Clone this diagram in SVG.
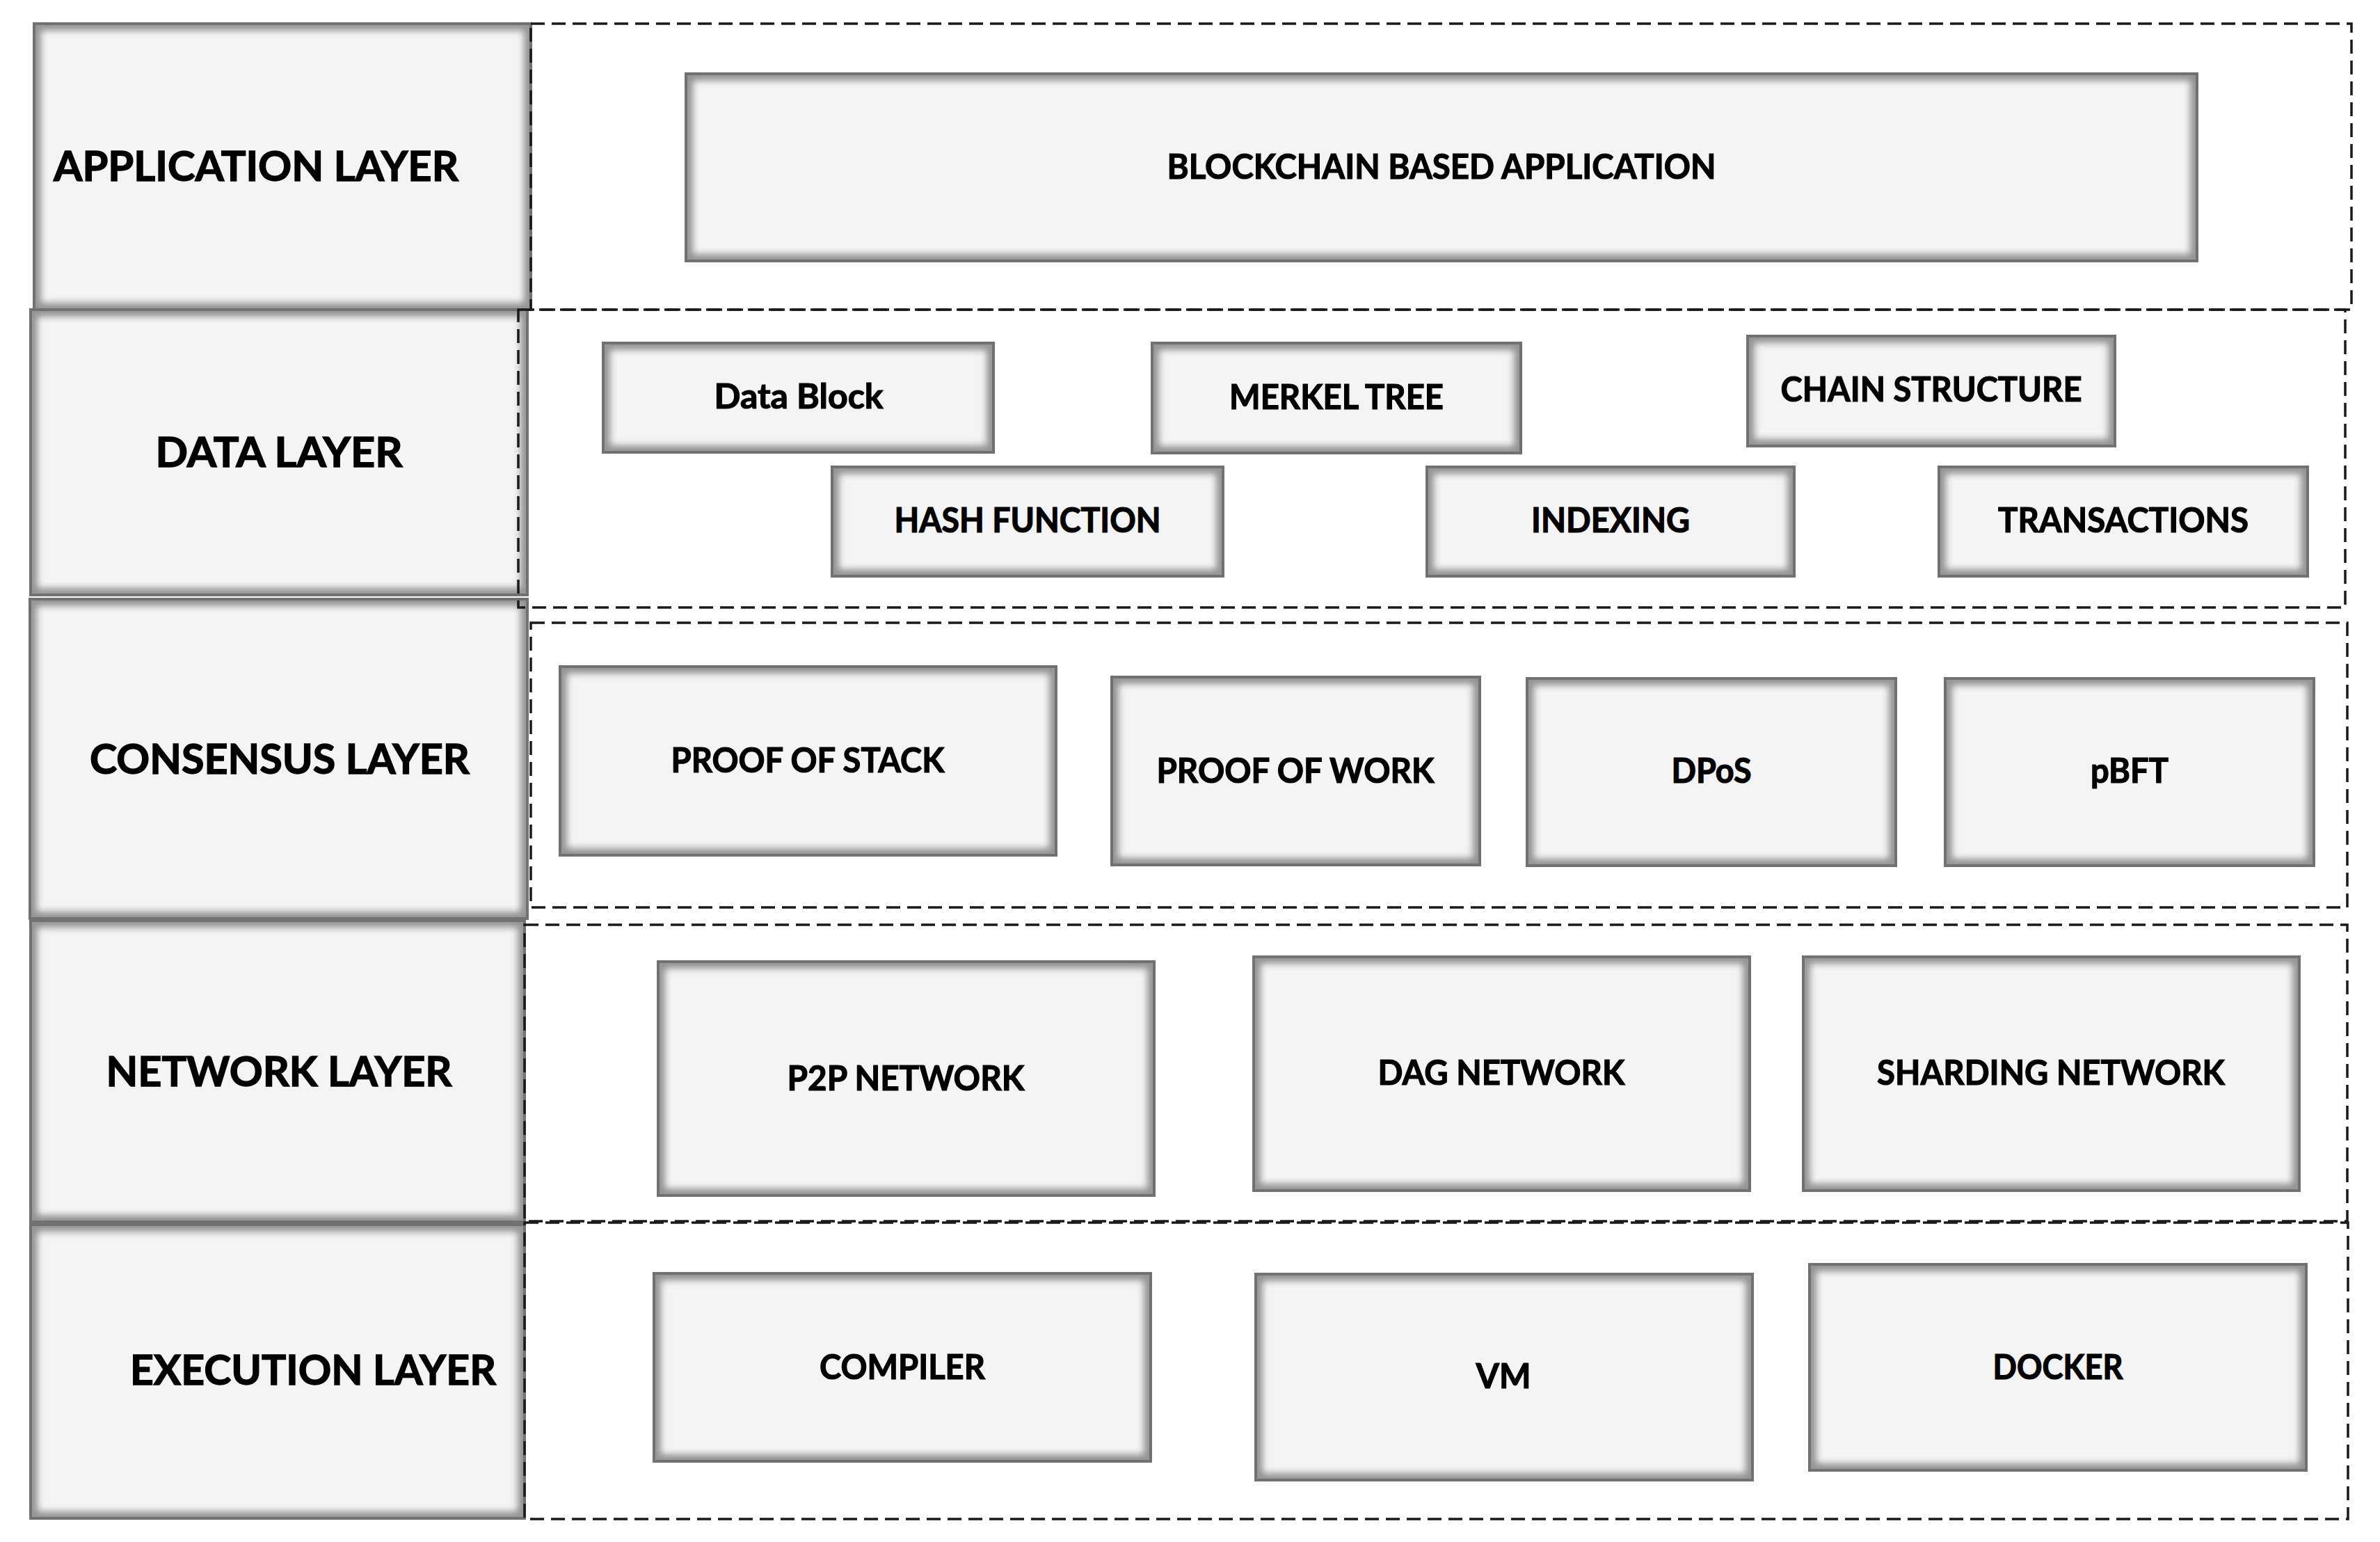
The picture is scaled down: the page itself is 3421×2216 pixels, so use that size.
<svg xmlns="http://www.w3.org/2000/svg" width="3421" height="2216" viewBox="0 0 3421 2216">
<style>
.box{fill:#f4f4f4;stroke:#222;stroke-width:4;filter:url(#inset)}
.dash{fill:none;stroke:#1a1a1a;stroke-width:3.5;stroke-dasharray:20 10}
.lbl{font-family:Lato,"Liberation Sans",sans-serif;font-weight:bold;font-size:60px;fill:#000;stroke:#000;stroke-width:1.4}
.nt{font-family:Lato,"Liberation Sans",sans-serif;font-weight:bold;font-size:49px;fill:#000;stroke:#000;stroke-width:1.2;text-anchor:middle}
</style>
<defs>
<filter id="inset" x="-0.05" y="-0.1" width="1.1" height="1.2">
<feMorphology in="SourceAlpha" operator="erode" radius="13" result="e"/>
<feGaussianBlur in="e" stdDeviation="5" result="eb"/>
<feComposite in="SourceAlpha" in2="eb" operator="out" result="band"/>
<feFlood flood-color="#7a7a7a" flood-opacity="0.85"/>
<feComposite in2="band" operator="in" result="g"/>
<feMerge><feMergeNode in="SourceGraphic"/><feMergeNode in="g"/></feMerge>
</filter>
</defs>
<rect width="3421" height="2216" fill="#fff"/>

<g id="layer-labels">
<g id="application-layer"><rect class="box" x="49" y="34" width="714" height="411"/><text class="lbl" x="77" y="260" textLength="582" lengthAdjust="spacingAndGlyphs">APPLICATION LAYER</text></g>
<g id="data-layer"><rect class="box" x="44" y="445" width="714" height="410"/><text class="lbl" x="401" y="671" text-anchor="middle" textLength="355" lengthAdjust="spacingAndGlyphs">DATA LAYER</text></g>
<g id="consensus-layer"><rect class="box" x="43" y="861" width="715" height="459"/><text class="lbl" x="402" y="1112" text-anchor="middle" textLength="546" lengthAdjust="spacingAndGlyphs">CONSENSUS LAYER</text></g>
<g id="network-layer"><rect class="box" x="44" y="1323" width="710" height="433"/><text class="lbl" x="401" y="1561" text-anchor="middle" textLength="497" lengthAdjust="spacingAndGlyphs">NETWORK LAYER</text></g>
<g id="execution-layer"><rect class="box" x="44" y="1760" width="710" height="422"/><text class="lbl" x="187" y="1990" textLength="526" lengthAdjust="spacingAndGlyphs">EXECUTION LAYER</text></g>
</g>

<g id="containers">
<rect id="application-area" class="dash" x="763" y="34" width="2617" height="411"/>
<rect id="data-area" class="dash" x="745" y="445" width="2626" height="428"/>
<rect id="consensus-area" class="dash" x="763" y="895" width="2611" height="409"/>
<rect id="network-area" class="dash" x="754" y="1329" width="2620" height="426"/>
<rect id="execution-area" class="dash" x="754" y="1757" width="2621" height="426"/>
</g>

<g id="connectors"/>

<g id="nodes">
<g id="blockchain-app"><rect class="box" x="986" y="106" width="2172" height="269"/><text class="nt" x="2072" y="257" font-size="48" textLength="789" lengthAdjust="spacingAndGlyphs">BLOCKCHAIN BASED APPLICATION</text></g>

<g id="data-block"><rect class="box" x="867" y="493" width="561" height="157"/><text class="nt" x="1148" y="587" textLength="243" lengthAdjust="spacingAndGlyphs">Data Block</text></g>
<g id="merkel-tree"><rect class="box" x="1656" y="493" width="530" height="158"/><text class="nt" x="1921" y="588" textLength="308" lengthAdjust="spacingAndGlyphs">MERKEL TREE</text></g>
<g id="chain-structure"><rect class="box" x="2512" y="483" width="528" height="158"/><text class="nt" x="2776" y="577" textLength="433" lengthAdjust="spacingAndGlyphs">CHAIN STRUCTURE</text></g>
<g id="hash-function"><rect class="box" x="1196" y="671" width="562" height="157"/><text class="nt" x="1477" y="765" textLength="383" lengthAdjust="spacingAndGlyphs">HASH FUNCTION</text></g>
<g id="indexing"><rect class="box" x="2051" y="671" width="528" height="157"/><text class="nt" x="2315" y="765" textLength="228" lengthAdjust="spacingAndGlyphs">INDEXING</text></g>
<g id="transactions"><rect class="box" x="2787" y="671" width="530" height="157"/><text class="nt" x="3052" y="765" textLength="360" lengthAdjust="spacingAndGlyphs">TRANSACTIONS</text></g>

<g id="proof-of-stack"><rect class="box" x="805" y="958" width="713" height="271"/><text class="nt" x="1161" y="1110" textLength="393" lengthAdjust="spacingAndGlyphs">PROOF OF STACK</text></g>
<g id="proof-of-work"><rect class="box" x="1598" y="973" width="529" height="270"/><text class="nt" x="1862" y="1125" textLength="399" lengthAdjust="spacingAndGlyphs">PROOF OF WORK</text></g>
<g id="dpos"><rect class="box" x="2195" y="975" width="530" height="269"/><text class="nt" x="2460" y="1125" textLength="115" lengthAdjust="spacingAndGlyphs">DPoS</text></g>
<g id="pbft"><rect class="box" x="2796" y="975" width="530" height="269"/><text class="nt" x="3061" y="1125" textLength="112" lengthAdjust="spacingAndGlyphs">pBFT</text></g>

<g id="p2p-network"><rect class="box" x="946" y="1382" width="713" height="336"/><text class="nt" x="1302" y="1567" textLength="341" lengthAdjust="spacingAndGlyphs">P2P NETWORK</text></g>
<g id="dag-network"><rect class="box" x="1802" y="1375" width="713" height="336"/><text class="nt" x="2158" y="1559" textLength="355" lengthAdjust="spacingAndGlyphs">DAG NETWORK</text></g>
<g id="sharding-network"><rect class="box" x="2592" y="1375" width="713" height="336"/><text class="nt" x="2948" y="1559" textLength="500" lengthAdjust="spacingAndGlyphs">SHARDING NETWORK</text></g>

<g id="compiler"><rect class="box" x="940" y="1830" width="714" height="270"/><text class="nt" x="1297" y="1982" textLength="238" lengthAdjust="spacingAndGlyphs">COMPILER</text></g>
<g id="vm"><rect class="box" x="1805" y="1831" width="714" height="296"/><text class="nt" x="2161" y="1995" textLength="79" lengthAdjust="spacingAndGlyphs">VM</text></g>
<g id="docker"><rect class="box" x="2601" y="1817" width="714" height="296"/><text class="nt" x="2958" y="1982" textLength="187" lengthAdjust="spacingAndGlyphs">DOCKER</text></g>
</g>
</svg>
